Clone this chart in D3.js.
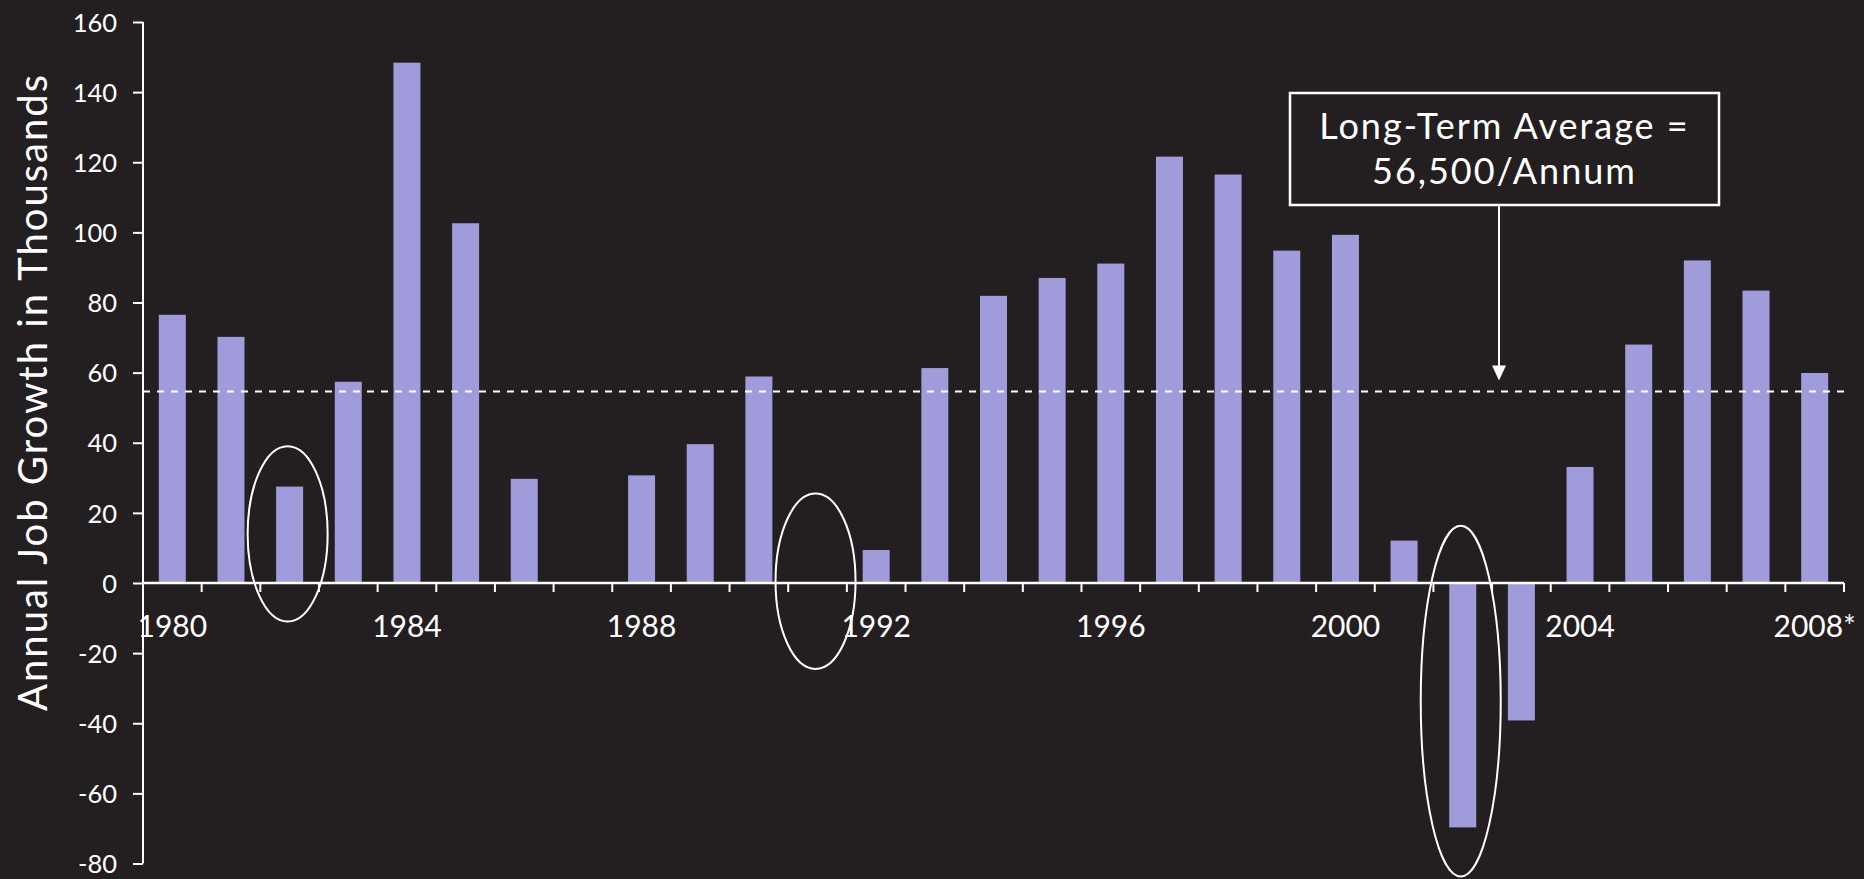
<!DOCTYPE html>
<html>
<head>
<meta charset="utf-8">
<script src="https://cdn.jsdelivr.net/npm/d3@7"></script>
<style>
html, body { margin:0; padding:0; background:#231f20; }
svg { display:block; }
text { font-family: Lato, "Open Sans", sans-serif; fill:#fff; }
</style>
</head>
<body>
<div id="chart"></div>
<script>
var W = 1864, H = 879;
var margin = {top:22, right:20, bottom:15, left:143},
    width = 1844 - margin.left, height = 863.5 - margin.top;

// data
var years = ["1980","1981","1982","1983","1984","1985","1986","1987","1988","1989",
             "1990","1991","1992","1993","1994","1995","1996","1997","1998","1999",
             "2000","2001","2002","2003","2004","2005","2006","2007","2008*"];
var jobGrowth = [76.5, 70.2, 27.5, 57.4, 148.4, 102.6, 29.7, 0, 30.7, 39.6,
                 58.9, 0, 9.4, 61.3, 81.9, 87.0, 91.1, 121.6, 116.5, 94.8,
                 99.3, 12.1, -69.7, -39.2, 33.1, 68.0, 92.0, 83.4, 59.9];
var yTicks = [160, 140, 120, 100, 80, 60, 40, 20, 0, -20, -40, -60, -80];
var xLabels = ["1980","1984","1988","1992","1996","2000","2004","2008*"];
var avgLine = 54.6;
var avgText = ["Long-Term Average =", "56,500/Annum"];
// circled years: centre value and half height in thousands
var circled = [
  {year:"1982", mid:14, half:25},
  {year:"1991", mid:0.5, half:25},
  {year:"2002", mid:-33.7, half:50}
];

var data = years.map(function(d, i){ return {year:d, value:jobGrowth[i]}; });

var svg = d3.select("#chart").append("svg")
  .attr("width", W).attr("height", H)
  .append("g")
  .attr("transform", "translate(" + margin.left + "," + margin.top + ")");

var x = d3.scaleBand().domain(years).range([0, width]).paddingInner(0).paddingOuter(0);
var y = d3.scaleLinear().domain([-80, 160]).range([height, 0]);
var barW = 27;

//bars
svg.selectAll(".bar").data(data).enter()
  .append("rect")
  .attr("class", "bar")
  .attr("x", function(d){ return x(d.year) + (x.bandwidth() - barW)/2; })
  .attr("width", barW)
  .attr("y", function(d){ return y(Math.max(0, d.value)); })
  .attr("height", function(d){ return Math.abs(y(d.value) - y(0)); })
  .style("fill", "#a09bdb");

//average dashed line
svg.append("line")
  .attr("x1", 0).attr("x2", width)
  .attr("y1", y(avgLine)).attr("y2", y(avgLine))
  .style("stroke", "#fff").style("stroke-width", 2)
  .style("stroke-dasharray", "7,7");

//y axis
var yAxis = d3.axisLeft(y).tickValues(yTicks).tickSize(10).tickPadding(16)
  .tickFormat(function(d){ return String(d); });
var gy = svg.append("g").attr("class", "y axis").call(yAxis);
gy.select(".domain").remove();
gy.append("line").attr("x1", 0).attr("x2", 0).attr("y1", 0).attr("y2", height)
  .style("stroke", "#fff").style("stroke-width", 2);
gy.selectAll(".tick line").style("stroke", "#fff").style("stroke-width", 2);
gy.selectAll(".tick text")
  .style("font-size", "25.5px").style("fill", "#fff")
  .style("font-family", "Lato, sans-serif")
  .attr("dy", "0.36em");

//x axis at zero
var gx = svg.append("g").attr("class", "x axis")
  .attr("transform", "translate(0," + y(0) + ")");
gx.append("line").attr("x1", 0).attr("x2", width)
  .style("stroke", "#fff").style("stroke-width", 2.5);
var bounds = years.map(function(d){ return x(d); }).concat([width]);
gx.selectAll(".xtick").data(bounds).enter()
  .append("line")
  .attr("class", "xtick")
  .attr("x1", function(d){ return d; }).attr("x2", function(d){ return d; })
  .attr("y1", 0).attr("y2", 9)
  .style("stroke", "#fff").style("stroke-width", 2);
gx.selectAll(".xlabel").data(xLabels).enter()
  .append("text")
  .attr("class", "xlabel")
  .attr("x", function(d){ return x(d) + x.bandwidth()/2; })
  .attr("y", 54)
  .style("text-anchor", "middle")
  .style("font-size", "30px")
  .text(function(d){ return d; });

//y axis title
svg.append("text")
  .attr("transform", "translate(" + (47 - margin.left) + "," + (392 - margin.top) + ") rotate(-90)")
  .style("text-anchor", "middle")
  .style("font-size", "40px")
  .style("letter-spacing", "2px")
  .text("Annual Job Growth in Thousands");

//circles round the recession years
svg.selectAll(".ring").data(circled).enter()
  .append("ellipse")
  .attr("class", "ring")
  .attr("cx", function(d){ return x(d.year) + x.bandwidth()/2 - 2; })
  .attr("cy", function(d){ return y(d.mid); })
  .attr("rx", 40)
  .attr("ry", function(d){ return y(-d.half) - y(0); })
  .style("fill", "none").style("stroke", "#fff").style("stroke-width", 2);

//annotation box + arrow
var boxX = 1290 - margin.left, boxY = 93 - margin.top, boxW = 429, boxH = 112;
var arrowX = 1499 - margin.left;
svg.append("rect")
  .attr("x", boxX).attr("y", boxY).attr("width", boxW).attr("height", boxH)
  .style("fill", "#231f20").style("stroke", "#fff").style("stroke-width", 2.5);
svg.selectAll(".avgtext").data(avgText).enter()
  .append("text")
  .attr("class", "avgtext")
  .attr("x", boxX + boxW/2)
  .attr("y", function(d, i){ return boxY + 46 + i*45; })
  .style("text-anchor", "middle")
  .style("font-size", "36px")
  .style("letter-spacing", "2px")
  .text(function(d){ return d; });
var tipY = y(avgLine) - 11;
svg.append("line")
  .attr("x1", arrowX).attr("x2", arrowX)
  .attr("y1", boxY + boxH).attr("y2", tipY - 12)
  .style("stroke", "#fff").style("stroke-width", 2);
svg.append("path")
  .attr("d", "M" + (arrowX - 7) + "," + (tipY - 15) + "L" + (arrowX + 7) + "," + (tipY - 15) + "L" + arrowX + "," + tipY + "Z")
  .style("fill", "#fff");
</script>
</body>
</html>
